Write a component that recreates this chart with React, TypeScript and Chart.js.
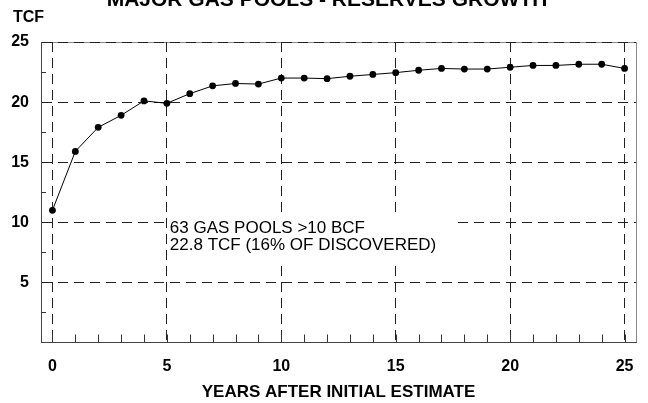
import React, { useEffect, useRef } from "react";
import { Chart, registerables } from "chart.js";

Chart.register(...registerables);

const chartTitle = "MAJOR GAS POOLS - RESERVES GROWTH";
const yAxisTitle = "TCF";
const xAxisTitle = "YEARS AFTER INITIAL ESTIMATE";
const noteLines = ["63 GAS POOLS >10 BCF", "22.8 TCF (16% OF DISCOVERED)"];

const years = [0, 1, 2, 3, 4, 5, 6, 7, 8, 9, 10, 11, 12, 13, 14, 15, 16, 17, 18, 19, 20, 21, 22, 23, 24, 25];
const reservesTcf = [
  11.0, 15.9, 17.9, 18.9, 20.1, 19.9, 20.7, 21.35, 21.55, 21.5, 22.0, 22.0, 21.95,
  22.15, 22.3, 22.45, 22.65, 22.8, 22.75, 22.75, 22.9, 23.05, 23.05, 23.15, 23.15, 22.8,
];

const xTickValues = [0, 5, 10, 15, 20, 25];
const yTickValues = [0, 5, 10, 15, 20, 25];
const xMinorTicks = years;
const yMinorTicks = [2.5, 7.5, 12.5, 17.5, 22.5];

const FONT = "Arial, 'Liberation Sans', Helvetica, sans-serif";

const decorPlugin = {
  id: "decor",
  beforeDraw(chart: any) {
    const { ctx, chartArea: a } = chart;
    ctx.save();
    ctx.strokeStyle = "#8a8a8a";
    ctx.lineWidth = 1;
    ctx.beginPath();
    ctx.moveTo(a.left, a.top + 0.5);
    ctx.lineTo(a.right + 0.5, a.top + 0.5);
    ctx.lineTo(a.right + 0.5, a.bottom);
    ctx.stroke();
    ctx.restore();
  },
  beforeDatasetsDraw(chart: any) {
    const { ctx, chartArea: a, scales } = chart;
    const x = scales.x;
    const y = scales.y;
    ctx.save();
    // white note background
    const bx0 = x.getPixelForValue(5) + 1.5;
    const bx1 = x.getPixelForValue(17.7);
    const by0 = y.getPixelForValue(10.8);
    const by1 = y.getPixelForValue(6.7);
    ctx.fillStyle = "#ffffff";
    ctx.fillRect(bx0, by0, bx1 - bx0, by1 - by0);

    // minor ticks
    ctx.strokeStyle = "#333";
    ctx.lineWidth = 1;
    ctx.beginPath();
    for (const v of xMinorTicks) {
      const px = Math.round(x.getPixelForValue(v)) + 0.5;
      ctx.moveTo(px, a.bottom);
      ctx.lineTo(px, a.bottom - 8);
    }
    for (const v of yMinorTicks) {
      const py = Math.round(y.getPixelForValue(v)) + 0.5;
      ctx.moveTo(a.left, py);
      ctx.lineTo(a.left + 5, py);
    }
    ctx.stroke();
    ctx.restore();
  },
  afterDraw(chart: any) {
    const { ctx, chartArea: a, scales } = chart;
    const x = scales.x;
    const y = scales.y;
    ctx.save();
    ctx.fillStyle = "#000";
    ctx.textAlign = "center";
    ctx.textBaseline = "alphabetic";
    ctx.font = `bold 21px ${FONT}`;
    ctx.fillText(chartTitle, 327, 6);

    ctx.font = `bold 17px ${FONT}`;
    ctx.fillText(xAxisTitle, (a.left + a.right) / 2, 397);

    ctx.textAlign = "left";
    ctx.font = `bold 16px ${FONT}`;
    ctx.fillText(yAxisTitle, 13, 22);

    ctx.font = `17px ${FONT}`;
    const tx = x.getPixelForValue(5) + 3;
    const ty = y.getPixelForValue(10);
    ctx.fillText(noteLines[0], tx, ty + 11);
    ctx.fillText(noteLines[1], tx, ty + 28);
    ctx.restore();
  },
};

export default function App() {
  const canvasRef = useRef<HTMLCanvasElement | null>(null);

  useEffect(() => {
    const canvas = canvasRef.current;
    if (!canvas) return;
    const chart = new Chart(canvas, {
      type: "line",
      data: {
        datasets: [
          {
            data: years.map((yr, i) => ({ x: yr, y: reservesTcf[i] })),
            borderColor: "#000",
            backgroundColor: "#000",
            borderWidth: 1,
            pointRadius: 3.4,
            pointBorderWidth: 0,
            pointBackgroundColor: "#000",
            tension: 0,
            fill: false,
          },
        ],
      },
      options: {
        responsive: false,
        animation: false,
        layout: { padding: { left: 0, right: 12, top: 42, bottom: 0 } },
        plugins: {
          legend: { display: false },
          title: { display: false },
          tooltip: { enabled: false },
        },
        scales: {
          x: {
            type: "linear",
            min: -0.5,
            max: 25.5,
            afterBuildTicks: (scale: any) => {
              scale.ticks = xTickValues.map((v) => ({ value: v }));
            },
            afterFit: (scale: any) => {
              scale.height = 60.5;
            },
            grid: {
              color: "#222",
              lineWidth: 1,
              drawTicks: false,
            },
            border: { display: true, color: "#444", width: 1, dash: [10, 6] },
            ticks: {
              padding: 14,
              color: "#000",
              font: { family: FONT, size: 16, weight: "bold" },
              maxRotation: 0,
              callback: (v: any) => String(v),
            },
          },
          y: {
            type: "linear",
            min: 0,
            max: 25,
            afterBuildTicks: (scale: any) => {
              scale.ticks = yTickValues.map((v) => ({ value: v }));
            },
            afterFit: (scale: any) => {
              scale.width = 41;
            },
            grid: {
              color: (c: any) => (c.tick && c.tick.value === 0 ? "rgba(0,0,0,0)" : "#222"),
              lineWidth: 1,
              drawTicks: false,
            },
            border: { display: true, color: "#444", width: 1, dash: [10, 6] },
            ticks: {
              padding: 12,
              color: "#000",
              font: { family: FONT, size: 16, weight: "bold" },
              callback: (v: any) => (v === 0 ? "" : String(v)),
            },
          },
        },
      },
      plugins: [decorPlugin],
    } as any);
    return () => chart.destroy();
  }, []);

  return (
    <div style={{ position: "fixed", left: 0, top: 0, width: 648, height: 403, background: "#fff" }}>
      <canvas ref={canvasRef} width={648} height={403} style={{ display: "block" }} />
    </div>
  );
}
